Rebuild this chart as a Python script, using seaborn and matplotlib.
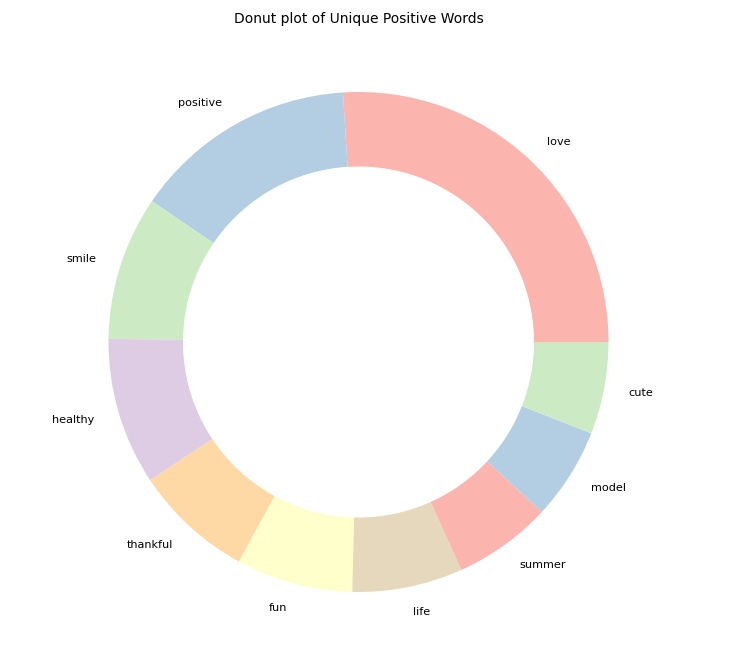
import matplotlib
matplotlib.use("Agg")
import matplotlib.pyplot as plt
import seaborn as sns

words = ["love", "positive", "smile", "healthy", "thankful", "fun", "life", "summer", "model", "cute"]
counts = [131, 73, 47, 48, 39, 38, 36, 32, 30, 30]

colors = sns.color_palette("Pastel1", 7)

dpi = 72
W, H = 741, 661
fig = plt.figure(figsize=(W / dpi, H / dpi), dpi=dpi)
cx, cy, r = 358.5, H - 342, 250
half = 1.25 * r
ax = fig.add_axes([(cx - half) / W, (cy - half) / H, 2 * half / W, 2 * half / H])
ax.pie(counts, labels=words, colors=colors, textprops={"fontsize": 11.3})
ax.add_artist(plt.Circle((0, 0), 0.7, color="white"))
ax.set_title("Donut plot of Unique Positive Words", fontsize=13.9, pad=7)
fig.savefig("out.png", dpi=dpi)
